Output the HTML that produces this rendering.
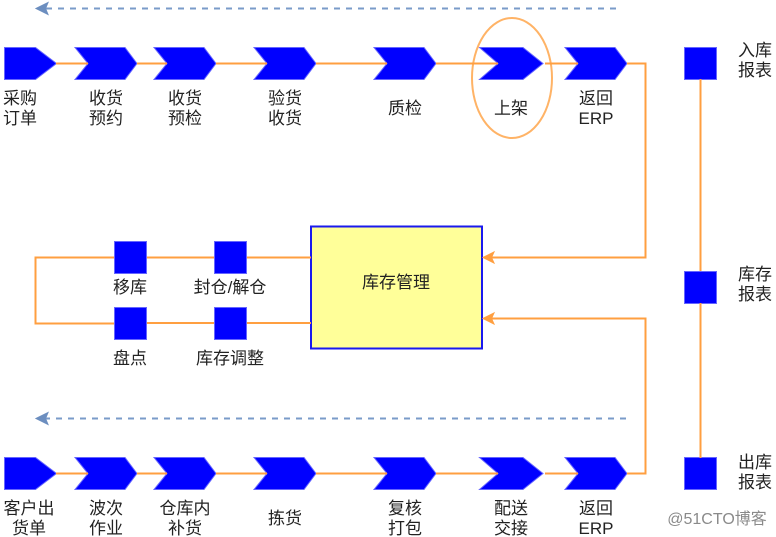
<!DOCTYPE html>
<html><head><meta charset="utf-8"><style>
html,body{margin:0;padding:0;background:#fff;width:776px;height:537px;overflow:hidden}
svg{display:block}
text{font-family:"Liberation Sans","Noto Sans CJK SC",sans-serif;font-size:17px;fill:#222;text-anchor:middle}
.c{fill:#0000ff;stroke:#6666ff;stroke-width:1}
.l{fill:none;stroke:#ff9f40;stroke-width:2}
.d{fill:none;stroke:#7a9bc9;stroke-width:2;stroke-dasharray:6 6}
</style></head><body>
<svg width="776" height="537" viewBox="0 0 776 537" xmlns="http://www.w3.org/2000/svg">
<defs>
<g id="chev"><path class="c" d="M0 0H50L62 16L50 32H0L13 16Z" transform="translate(0,0)"/></g>
<g id="pent"><path class="c" d="M0 0H31L52 16L31 32H0Z"/></g>
</defs>
<!-- top dashed -->
<path class="d" d="M616 8.5H46"/>
<path d="M36 8.5L48 2.5L45.5 8.5L48 14.5Z" fill="#6c8ebf" stroke="#6c8ebf"/>
<!-- bottom dashed -->
<path class="d" d="M626 418.5H46"/>
<path d="M36 418.5L48 412.5L45.5 418.5L48 424.5Z" fill="#6c8ebf" stroke="#6c8ebf"/>
<!-- top row shapes -->
<use href="#pent" x="4.5" y="47.5"/>
<use href="#chev" x="75" y="47.5"/>
<use href="#chev" x="154" y="47.5"/>
<use href="#chev" x="254" y="47.5"/>
<use href="#chev" x="374" y="47.5"/>
<path class="c" d="M479.5 47.5H523L543 63.5L523 79.5H479.5L498 63.5Z"/>
<use href="#chev" x="565" y="47.5"/>
<ellipse cx="512" cy="78" rx="40" ry="60" fill="none" stroke="#ffb366" stroke-width="2"/>
<!-- bottom row shapes -->
<use href="#pent" x="4.5" y="457.5"/>
<use href="#chev" x="75" y="457.5"/>
<use href="#chev" x="154" y="457.5"/>
<use href="#chev" x="254" y="457.5"/>
<use href="#chev" x="374" y="457.5"/>
<path class="c" d="M479.5 457.5H523L543 473.5L523 489.5H479.5L498 473.5Z"/>
<use href="#chev" x="565" y="457.5"/>
<!-- right squares -->
<rect class="c" x="684.5" y="47.5" width="32" height="32"/>
<rect class="c" x="684.5" y="271.5" width="32" height="32"/>
<rect class="c" x="684.5" y="457.5" width="32" height="32"/>
<!-- middle squares -->
<rect class="c" x="114.5" y="241.5" width="32" height="32"/>
<rect class="c" x="214.5" y="241.5" width="32" height="32"/>
<rect class="c" x="114.5" y="307.5" width="32" height="32"/>
<rect class="c" x="214.5" y="307.5" width="32" height="32"/>
<rect x="311" y="226.5" width="171" height="122" fill="#ffff99" stroke="#1a1aee" stroke-width="2"/>
<!-- top row connectors -->
<path class="l" d="M56 63.5H88M137 63.5H167M216 63.5H267M316 63.5H387M436 63.5H498M545 63.5H578M627 63.5H645.5V257.5H490"/>
<path d="M483 257.5L494 252L491.5 257.5L494 263Z" fill="#ff9f40" stroke="#ff9f40"/>
<!-- bottom row connectors -->
<path class="l" d="M56 473.5H88M137 473.5H167M216 473.5H267M316 473.5H387M436 473.5H498M545 473.5H578M627 473.5H645.5V318.5H490"/>
<path d="M483 318.5L494 313L491.5 318.5L494 324Z" fill="#ff9f40" stroke="#ff9f40"/>
<!-- right line -->
<path class="l" d="M700.5 79V271M700.5 303V458"/>
<!-- middle lines -->
<path class="l" d="M247 257.5H311M147 257.5H214M114 257.5H35.5V323.5H114M147 323H214M247 323H311"/>
<!-- labels -->
<text x="20" y="104">采购</text><text x="20" y="124">订单</text>
<text x="106" y="104">收货</text><text x="106" y="124">预约</text>
<text x="185" y="104">收货</text><text x="185" y="124">预检</text>
<text x="285" y="104">验货</text><text x="285" y="124">收货</text>
<text x="405" y="114">质检</text>
<text x="511" y="114">上架</text>
<text x="596" y="104">返回</text><text x="596" y="124">ERP</text>
<text x="755" y="56">入库</text><text x="755" y="76">报表</text>
<text x="755" y="280">库存</text><text x="755" y="300">报表</text>
<text x="755" y="468">出库</text><text x="755" y="488">报表</text>
<text x="130" y="293">移库</text>
<text x="230" y="293">封仓/解仓</text>
<text x="130" y="364">盘点</text>
<text x="230" y="364">库存调整</text>
<text x="396" y="288">库存管理</text>
<text x="29" y="514">客户出</text><text x="29" y="534">货单</text>
<text x="106" y="514">波次</text><text x="106" y="534">作业</text>
<text x="185" y="514">仓库内</text><text x="185" y="534">补货</text>
<text x="285" y="524">拣货</text>
<text x="405" y="514">复核</text><text x="405" y="534">打包</text>
<text x="511" y="514">配送</text><text x="511" y="534">交接</text>
<text x="596" y="514">返回</text><text x="596" y="534">ERP</text>
<text x="717" y="524" style="font-size:16px;fill:#8a8a8a">@51CTO博客</text>
</svg>
</body></html>
